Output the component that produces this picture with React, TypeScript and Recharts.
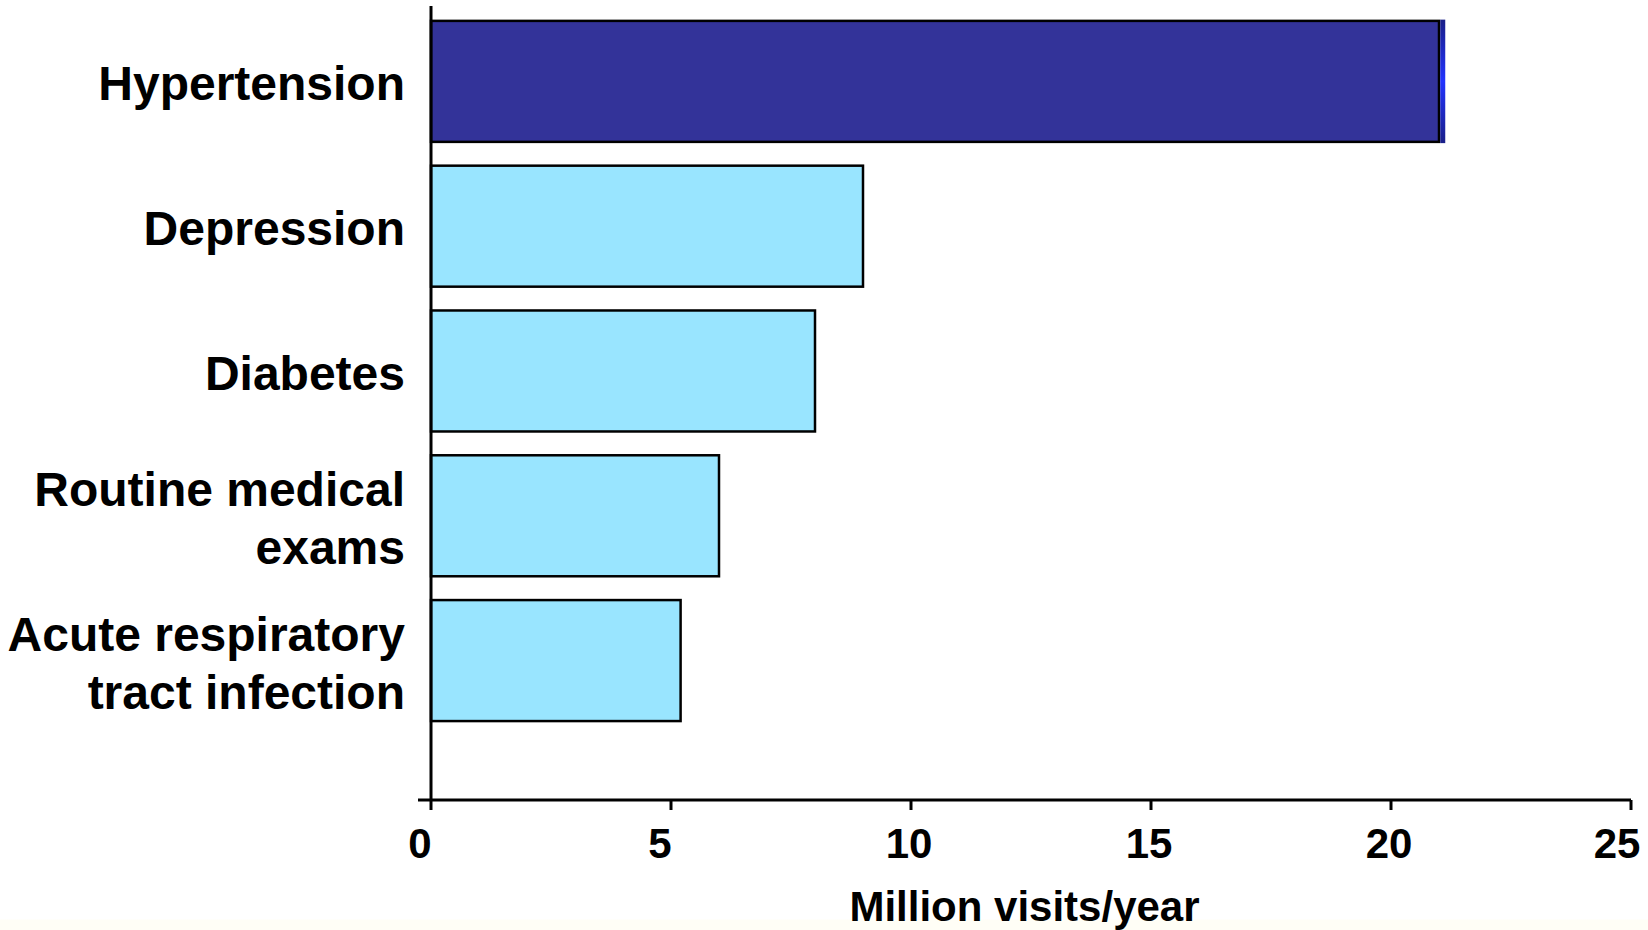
import {
  Bar,
  BarChart,
  Label,
  ReferenceLine,
  XAxis,
  YAxis,
} from "recharts";

// Office visits per year by primary diagnosis (millions)
const conditions = [
  "Hypertension",
  "Depression",
  "Diabetes",
  "Routine medical\nexams",
  "Acute respiratory\ntract infection",
];
const visits = [21, 9, 8, 6, 5.2];
const xTicks = [0, 5, 10, 15, 20, 25];

const highlighted = "Hypertension";
const FONT = '"Liberation Sans", Arial, Helvetica, sans-serif';

const data = conditions.map((name, i) => ({ name, visits: visits[i] }));

function CategoryTick(props: any) {
  const { x, y, payload } = props;
  const lines = String(payload.value).split("\n");
  const lineHeight = 58;
  const top = y + 2 - ((lines.length - 1) * lineHeight) / 2;
  return (
    <text
      x={x}
      y={top}
      textAnchor="end"
      dominantBaseline="central"
      fill="#000"
      fontSize={48}
      fontWeight={700}
      fontFamily={FONT}
    >
      {lines.map((line, i) => (
        <tspan key={i} x={x} y={top + i * lineHeight}>
          {line}
        </tspan>
      ))}
    </text>
  );
}

// value labels sit a little left of their tick; the last one is kept inside the frame
function ValueTick(props: any) {
  const { x, y, payload } = props;
  const label = String(payload.value);
  const dx = label.length === 1 ? -11 : payload.value === 25 ? -14 : -2;
  return (
    <text
      x={x + dx}
      y={y}
      dy="0.71em"
      textAnchor="middle"
      fill="#000"
      fontSize={42}
      fontWeight={700}
      fontFamily={FONT}
    >
      {label}
    </text>
  );
}

function VisitBar(props: any) {
  const { x, y, width, height, payload } = props;
  const hot = payload.name === highlighted;
  return (
    <g>
      <rect
        x={x}
        y={y}
        width={width}
        height={height}
        fill={hot ? "#333399" : "#99E5FF"}
        stroke="#000"
        strokeWidth={2.5}
      />
      {hot && (
        <rect
          x={x + width + 1.25}
          y={y - 1.25}
          width={5}
          height={height + 2.5}
          fill="url(#sideShade)"
        />
      )}
    </g>
  );
}

export default function App() {
  return (
    <div
      style={{
        position: "absolute",
        left: 0,
        top: 0,
        width: 1648,
        height: 930,
        background: "linear-gradient(#fff 0, #fff 919px, #fffef6 920px)",
      }}
    >
      <BarChart
        width={1648}
        height={930}
        data={data}
        layout="vertical"
        margin={{ top: 6, right: 17, bottom: 0, left: 0 }}
        barCategoryGap="8.2%"
      >
        <defs>
          <linearGradient id="sideShade" x1="0" y1="0" x2="0" y2="1">
            <stop offset="0%" stopColor="#1a1f88" />
            <stop offset="50%" stopColor="#2233ff" />
            <stop offset="100%" stopColor="#1a1f88" />
          </linearGradient>
        </defs>
        <XAxis
          type="number"
          dataKey="visits"
          domain={[0, 25]}
          ticks={xTicks}
          interval={0}
          padding={{ left: 13, right: 0 }}
          height={130}
          axisLine={{ stroke: "#000", strokeWidth: 3 }}
          tickLine={{ stroke: "#000", strokeWidth: 3 }}
          tickSize={10}
          tickMargin={18}
          tick={<ValueTick />}
        >
          <Label
            value="Million visits/year"
            position="insideBottom"
            offset={9}
            fill="#000"
            fontSize={42}
            fontWeight={700}
            fontFamily={FONT}
          />
        </XAxis>
        <YAxis
          type="category"
          dataKey="name"
          width={418}
          padding={{ top: 3, bottom: 67 }}
          axisLine={false}
          tickLine={false}
          tickSize={0}
          tickMargin={13}
          interval={0}
          tick={<CategoryTick />}
        />
        <Bar
          dataKey="visits"
          isAnimationActive={false}
          shape={<VisitBar />}
        />
        <ReferenceLine x={0} stroke="#000" strokeWidth={3} />
      </BarChart>
    </div>
  );
}
